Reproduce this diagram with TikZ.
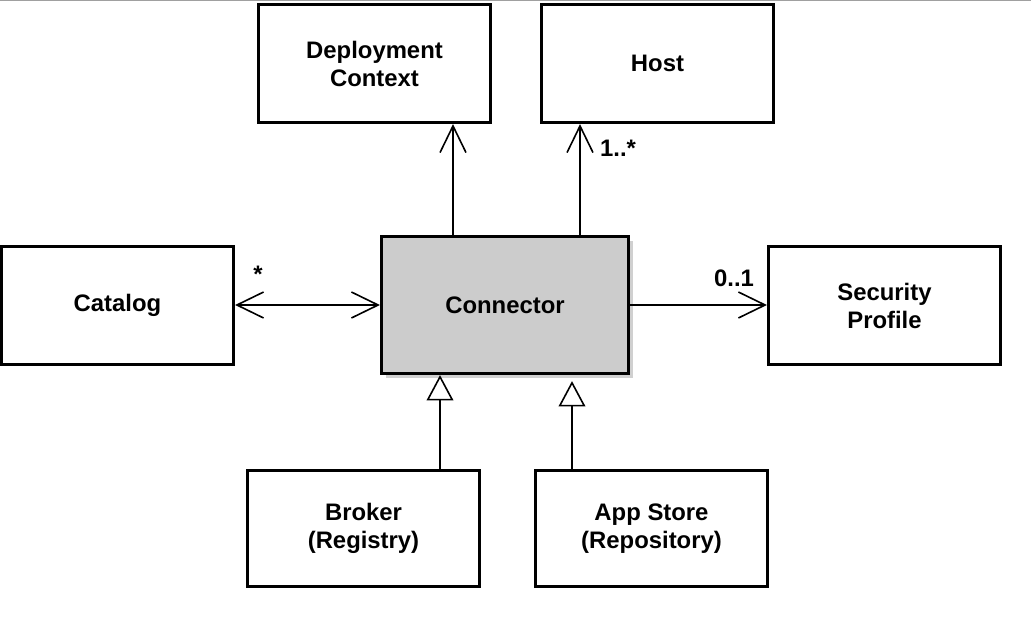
\documentclass[tikz,border=0pt]{standalone}
\usepackage{fontspec}
\setmainfont{Liberation Sans}
\usetikzlibrary{arrows.meta,shadows}
\definecolor{connfill}{HTML}{CCCCCC}
\definecolor{shadowc}{HTML}{D0D0D0}
\definecolor{topline}{HTML}{A0A0A0}
\tikzset{
  box/.style={draw=black, line width=2.4pt, fill=white, align=center,
    minimum width=174pt, minimum height=88.5pt, inner sep=0pt,
    font=\fontsize{17.9pt}{21pt}\selectfont\bfseries},
  mainbox/.style={box, fill=connfill, minimum width=185.25pt, minimum height=102.75pt,
    drop shadow={shadow xshift=3.5pt, shadow yshift=-3.5pt, fill=shadowc, opacity=1}},
  assoc/.style={line width=1.2pt, -{Straight Barb[length=20pt,width=19.5pt,line width=1.2pt]}},
  biassoc/.style={line width=1.2pt, {Straight Barb[length=20pt,width=19.5pt,line width=1.2pt]}-{Straight Barb[length=20pt,width=19.5pt,line width=1.2pt]}},
  gen/.style={line width=1.2pt, -{Triangle[open,length=19pt,width=20pt,line width=1.2pt,fill=white]}},
  mult/.style={font=\fontsize{17.9pt}{21pt}\selectfont\bfseries, inner sep=0pt}
}
\begin{document}
\begin{tikzpicture}[x=0.75pt,y=-0.75pt]
\useasboundingbox (0,0) rectangle (1031,625);
\draw[topline, line width=0.9pt] (0,0.6) -- (1031,0.6);

\node[box] (dep) at (374.5,63.5) {Deployment\\Context};
\node[box] (host) at (657.5,63.5) {Host};
\node[box] (cat) at (117.5,305.5) {Catalog};
\node[mainbox] (conn) at (505,305) {Connector};
\node[box] (sec) at (884.5,305.5) {Security\\Profile};
\node[box, minimum height=87pt] (brk) at (363.5,528.5) {Broker\\(Registry)};
\node[box, minimum height=87pt] (app) at (651.5,528.5) {App Store\\(Repository)};

\coordinate (xa) at (453,0);
\coordinate (xb) at (580,0);
\coordinate (xc) at (440,0);
\coordinate (xd) at (572,0);
\coordinate (ya) at (0,305);

\draw[assoc] (conn.north -| xa) -- (dep.south -| xa);
\draw[assoc] (conn.north -| xb) -- (host.south -| xb);
\draw[biassoc] (cat.east |- ya) -- (conn.west |- ya);
\draw[assoc] (conn.east |- ya) -- (sec.west |- ya);
\draw[gen] (brk.north -| xc) -- (conn.south -| xc);
\draw[gen] (app.north -| xd) -- ([yshift=-4.5pt]conn.south -| xd);

\node[mult] (m1) at (618,148) {1..*};
\node[mult] (m2) at (258,274) {*};
\node[mult] (m3) at (734,278) {0..1};
\end{tikzpicture}
\end{document}
